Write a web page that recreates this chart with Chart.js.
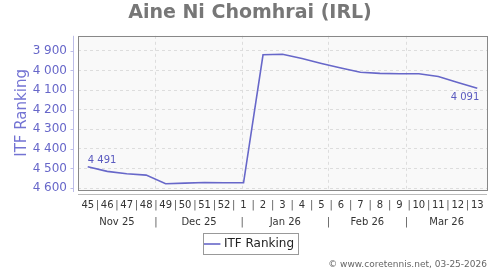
<!DOCTYPE html>
<html>
<head>
<meta charset="utf-8">
<script src="https://cdn.jsdelivr.net/npm/chart.js@4/dist/chart.umd.min.js"></script>
<style>
  html, body { margin: 0; padding: 0; background: #fff; }
  #wrap { width: 500px; height: 270px; }
</style>
</head>
<body>
<div id="wrap"><canvas id="rankChart"></canvas></div>
<script>
// ---------- data ----------
const weeks = ['45','46','47','48','49','50','51','52','1','2','3','4','5','6','7','8','9','10','11','12','13'];
const ranking = [4491, 4515, 4527, 4534, 4578, 4575, 4572, 4573, 4573, 3920, 3917, 3939, 3964, 3987, 4009, 4015, 4017, 4017, 4031, 4061, 4091];
const yTicks = [3900, 4000, 4100, 4200, 4300, 4400, 4500, 4600];
const months = ['Nov 25', 'Dec 25', 'Jan 26', 'Feb 26', 'Mar 26'];
const monthStarts = [3.5, 7.93, 12.36, 16.36]; // 1st of month, in week-index units

const fmt = v => String(v).replace(/\B(?=(\d{3})+(?!\d))/g, ' ');
const blue = '#6767c9';

// month axis ticks: boundaries (grid only) + centers (label only)
const edges = [-0.5, ...monthStarts, weeks.length - 0.5];
const monthTicks = [];
monthStarts.forEach(v => monthTicks.push({ value: v, label: '' }));
months.forEach((m, i) => monthTicks.push({ value: (edges[i] + edges[i + 1]) / 2, label: m }));
monthTicks.sort((a, b) => a.value - b.value);

Chart.defaults.font.family = 'DejaVu Sans';

// frame, axis lines, separators, value labels, legend border
const decor = {
  id: 'decor',
  beforeDraw(chart) {
    const { ctx, chartArea: a } = chart;
    ctx.save();
    ctx.fillStyle = '#f9f9f9';
    ctx.fillRect(a.left, a.top, a.right - a.left, a.bottom - a.top);
    ctx.restore();
  },
  afterDraw(chart) {
    const { ctx, chartArea: a, scales } = chart;
    ctx.save();
    // frame
    ctx.strokeStyle = '#888';
    ctx.lineWidth = 1;
    ctx.strokeRect(Math.round(a.left) + 0.5, Math.round(a.top) + 0.5, Math.round(a.right - a.left), Math.round(a.bottom - a.top));
    // y axis line + ticks
    const yx = Math.round(a.left) - 4.5;
    ctx.strokeStyle = '#bdbde8';
    ctx.beginPath();
    ctx.moveTo(yx, a.top);
    ctx.lineTo(yx, a.bottom + 2);
    yTicks.forEach(t => {
      const py = Math.round(scales.y.getPixelForValue(t)) + 0.5;
      ctx.moveTo(yx - 3, py);
      ctx.lineTo(yx, py);
    });
    ctx.stroke();
    // x axis line
    const xl = Math.round(a.bottom) + 4.5;
    ctx.strokeStyle = '#bbb';
    ctx.beginPath();
    ctx.moveTo(a.left, xl);
    ctx.lineTo(a.right, xl);
    ctx.stroke();
    // separators
    ctx.fillStyle = '#555';
    ctx.font = '10px "DejaVu Sans"';
    ctx.textAlign = 'center';
    ctx.textBaseline = 'middle';
    const wy = scales.x.top + 15;
    for (let i = 0; i < weeks.length - 1; i++) {
      ctx.fillText('|', scales.x.getPixelForValue(i + 0.5), wy);
    }
    const my = scales.xMonth.top + 8;
    monthStarts.forEach(v => ctx.fillText('|', scales.xMonth.getPixelForValue(v), my));
    // value labels
    const pts = chart.getDatasetMeta(0).data;
    ctx.fillStyle = '#5a5abf';
    ctx.font = '10px "DejaVu Sans"';
    ctx.textAlign = 'left';
    ctx.textBaseline = 'bottom';
    ctx.fillText(fmt(ranking[0]), pts[0].x, pts[0].y - 1);
    const n = ranking.length - 1;
    ctx.textAlign = 'right';
    ctx.textBaseline = 'top';
    ctx.fillText(fmt(ranking[n]), pts[n].x + 2, pts[n].y + 4);
    // legend item border
    const hb = chart.legend.legendHitBoxes[0];
    if (hb) {
      const cy = hb.top + hb.height / 2;
      ctx.strokeStyle = '#999';
      ctx.strokeRect(Math.round(hb.left - 3) + 0.5, Math.round(cy - 11) + 0.5, Math.round(hb.width + 7), 21);
    }
    ctx.restore();
  }
};

new Chart(document.getElementById('rankChart'), {
  type: 'line',
  data: {
    labels: weeks,
    datasets: [{
      label: 'ITF Ranking',
      data: ranking,
      borderColor: blue,
      backgroundColor: blue,
      borderWidth: 1.6,
      pointRadius: 0,
      tension: 0,
    }]
  },
  options: {
    responsive: true,
    maintainAspectRatio: false,
    animation: false,
    layout: { padding: { left: 13, right: 13, top: 0, bottom: 0 } },
    plugins: {
      title: {
        display: true,
        text: 'Aine Ni Chomhrai (IRL)',
        color: '#777',
        font: { size: 19, weight: 'bold' },
        padding: { top: 2, bottom: 11 },
      },
      subtitle: {
        display: true,
        position: 'bottom',
        align: 'end',
        text: '© www.coretennis.net, 03-25-2026',
        color: '#666',
        font: { size: 9, lineHeight: 1 },
        padding: { top: 0, bottom: 1 },
      },
      legend: {
        position: 'bottom',
        labels: {
          color: '#222',
          font: { size: 12 },
          usePointStyle: true,
          pointStyle: 'line',
          boxWidth: 16,
          padding: 5,
        },
      },
      tooltip: { enabled: false },
    },
    scales: {
      y: {
        reverse: true,
        min: 3823,
        max: 4610,
        afterBuildTicks: s => { s.ticks = yTicks.map(v => ({ value: v })); },
        afterFit: s => { s.width = 65; },
        grid: { color: '#ddd', drawTicks: false },
        border: { display: false, dash: [3, 3] },
        ticks: { color: blue, font: { size: 12 }, padding: 11, callback: v => fmt(v) },
        title: { display: true, text: 'ITF Ranking', color: '#7373d3', font: { size: 15 }, padding: { top: 0, bottom: 0 } },
      },
      x: {
        type: 'category',
        offset: true,
        afterFit: s => { s.height = 24; },
        grid: { display: false, drawTicks: false },
        border: { display: false },
        ticks: { color: '#333', font: { size: 10 }, padding: 9, autoSkip: false, maxRotation: 0 },
      },
      xMonth: {
        type: 'linear',
        position: 'bottom',
        min: -0.5,
        max: weeks.length - 0.5,
        afterBuildTicks: s => { s.ticks = monthTicks.map(t => ({ value: t.value })); },
        afterFit: s => { s.height = 19; },
        grid: {
          drawTicks: false,
          color: c => (c.tick && monthStarts.includes(c.tick.value)) ? '#ddd' : 'rgba(0,0,0,0)',
        },
        border: { display: false, dash: [3, 3] },
        ticks: { color: '#333', font: { size: 10 }, padding: 2, autoSkip: false, maxRotation: 0, callback: (v, i) => monthTicks[i].label },
      },
    },
  },
  plugins: [decor],
});
</script>
</body>
</html>
